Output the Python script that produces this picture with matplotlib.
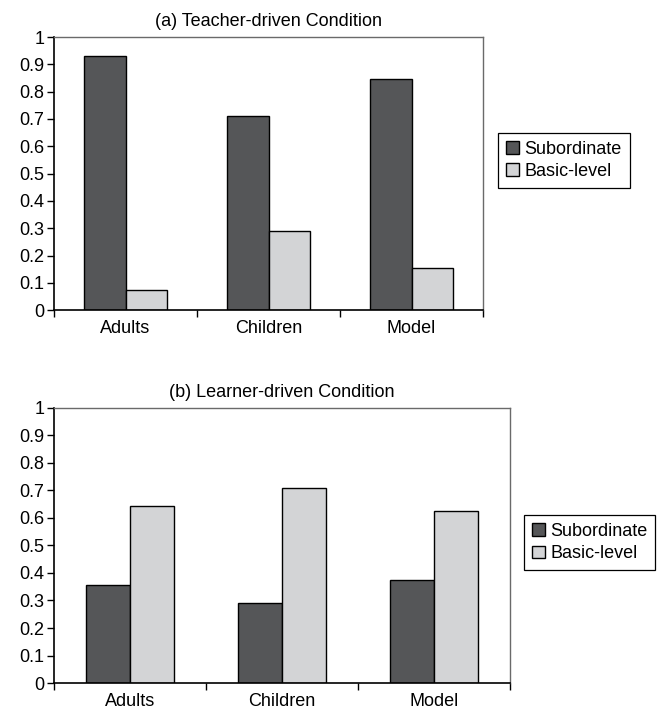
import matplotlib
matplotlib.use('Agg')
import matplotlib.pyplot as plt
import numpy as np

plt.rcParams['font.family'] = ['Liberation Sans', 'DejaVu Sans']

groups = ['Adults', 'Children', 'Model']
series = ['Subordinate', 'Basic-level']
teacher_sub = [0.93, 0.71, 0.845]
teacher_basic = [0.072, 0.29, 0.155]
learner_sub = [0.355, 0.29, 0.375]
learner_basic = [0.645, 0.71, 0.625]
titles = ['(a) Teacher-driven Condition', '(b) Learner-driven Condition']

DARK = '#555658'
LIGHT = '#d3d4d6'
FS = 13


def draw_panel(ax, sub, basic, title, legend_anchor):
    x = np.arange(len(groups)) + 0.5
    w = 0.29
    ax.bar(x - w / 2, sub, w, color=DARK, edgecolor='black', linewidth=1.0,
           label=series[0])
    ax.bar(x + w / 2, basic, w, color=LIGHT, edgecolor='black', linewidth=1.0,
           label=series[1])
    ax.set_xlim(0, len(groups))
    ax.set_ylim(0, 1)
    ax.set_yticks(np.arange(0, 1.01, 0.1))
    ax.set_yticklabels(['0'] + ['%.1f' % v for v in np.arange(0.1, 0.95, 0.1)] + ['1'],
                       fontsize=FS)
    ax.set_xticks(x)
    ax.set_xticklabels(groups, fontsize=FS)
    ax.set_xticks(np.arange(len(groups) + 1), minor=True)
    ax.tick_params(axis='x', which='major', length=0, pad=7)
    ax.tick_params(axis='x', which='minor', length=5, width=1.0, direction='out')
    ax.tick_params(axis='y', length=5, width=1.0, direction='out', pad=2)
    for s in ['top', 'right']:
        ax.spines[s].set_color('#6a6a6a')
        ax.spines[s].set_linewidth(1.0)
    for s in ['left', 'bottom']:
        ax.spines[s].set_color('black')
        ax.spines[s].set_linewidth(1.2)
    ax.set_title(title, fontsize=FS, pad=8)
    leg = ax.legend(loc='center left', bbox_to_anchor=legend_anchor,
                    bbox_transform=ax.figure.transFigure,
                    fontsize=FS, fancybox=False, framealpha=1,
                    edgecolor='black', handlelength=0.7, handleheight=0.7,
                    handletextpad=0.3, borderpad=0.45, labelspacing=0.3,
                    borderaxespad=0)
    leg.get_frame().set_linewidth(0.9)


fig = plt.figure(figsize=(6.59, 7.13), dpi=100)
ax1 = fig.add_axes([0.082, 0.565, 0.651, 0.383])
ax2 = fig.add_axes([0.082, 0.042, 0.692, 0.386])
draw_panel(ax1, teacher_sub, teacher_basic, titles[0], (0.756, 0.775))
draw_panel(ax2, learner_sub, learner_basic, titles[1], (0.795, 0.239))
fig.savefig('out.png', dpi=100)
